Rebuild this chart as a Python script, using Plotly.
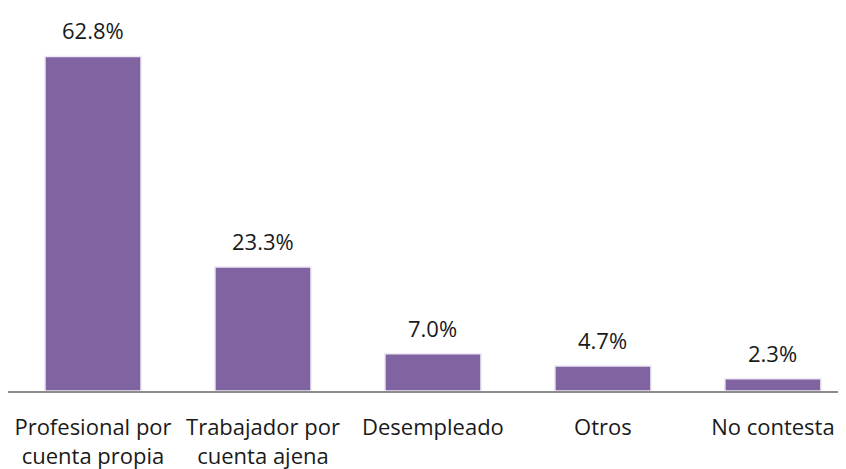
import plotly.graph_objects as go

categories = ["Profesional por<br>cuenta propia", "Trabajador por<br>cuenta ajena", "Desempleado", "Otros", "No contesta"]
values = [62.8, 23.3, 7.0, 4.7, 2.3]
labels = [f"{v:.1f}%" for v in values]

FONT = "Open Sans, Lato, sans-serif"

fig = go.Figure()
fig.add_trace(go.Bar(
    x=categories, y=values, width=0.565,
    marker=dict(color="#8064A2", line=dict(color="#EDE8F3", width=1.5)),
    hoverinfo="skip",
))
for c, v, t in zip(categories, values, labels):
    fig.add_annotation(x=c, y=v, text=t, showarrow=False, yanchor="bottom",
                       yshift=9, font=dict(size=22, color="#1a1a1a", family=FONT))

fig.update_layout(
    width=838, height=461,
    margin=dict(l=0, r=0, t=0, b=78),
    paper_bgcolor="white", plot_bgcolor="white",
    showlegend=False,
    font=dict(family=FONT, size=22, color="#1a1a1a"),
)
fig.update_xaxes(range=[-0.5, 4.43], showline=True, linecolor="#8C8C8C", linewidth=1.5,
                 ticks="", tickfont=dict(size=22, color="#1a1a1a", family=FONT),
                 ticklabelstandoff=16)
fig.update_yaxes(range=[0, 71.9], visible=False, showgrid=False)
fig.write_html("out.html")
